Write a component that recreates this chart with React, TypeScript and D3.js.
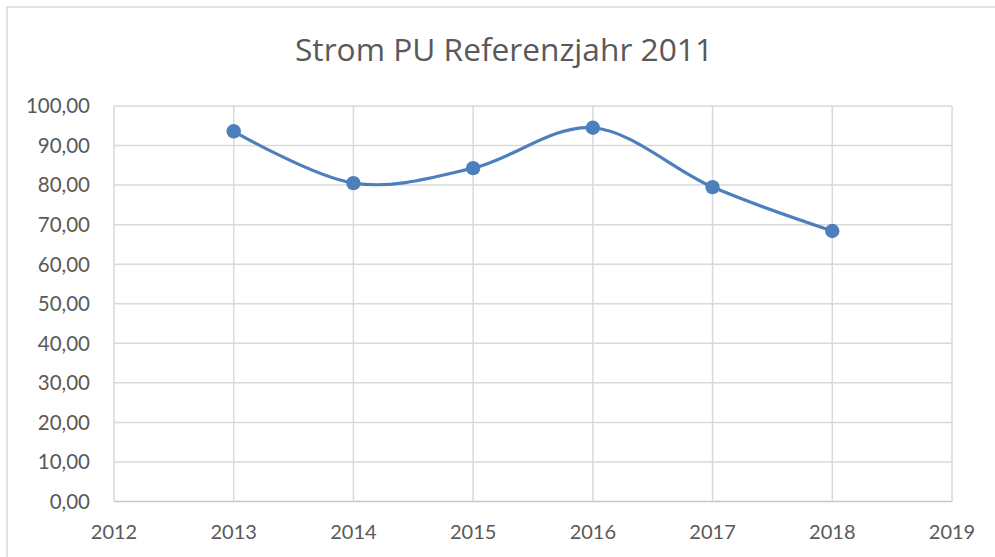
import React from "react";
import * as d3 from "d3";

const years = [2013, 2014, 2015, 2016, 2017, 2018];
const values = [93.6, 80.5, 84.3, 94.5, 79.5, 68.4];
const xTicks = [2012, 2013, 2014, 2015, 2016, 2017, 2018, 2019];
const yTicks = [0, 10, 20, 30, 40, 50, 60, 70, 80, 90, 100];
const title = "Strom PU Referenzjahr 2011";

const W = 995;
const H = 557;
const left = 114;
const right = 952;
const top = 106;
const bottom = 501.5;
const font = "Lato, 'Open Sans', sans-serif";
const titleFont = "'Open Sans', Lato, sans-serif";
const textColor = "#595959";
const lineColor = "#4e7fbd";

export default function App() {
  const x = d3.scaleLinear().domain([2012, 2019]).range([left, right]);
  const y = d3.scaleLinear().domain([0, 100]).range([bottom, top]);
  const fmt = (v: number) => v.toFixed(2).replace(".", ",");
  const pts: [number, number][] = years.map((yr, i) => [x(yr), y(values[i])]);
  const line = d3.line().curve(d3.curveCardinal.tension(0))(pts) || "";

  return (
    <svg
      width={W}
      height={H}
      style={{ position: "absolute", left: 0, top: 0, background: "#fff" }}
    >
      <rect x={0} y={0} width={W} height={H} fill="#fff" />
      <path
        d={`M7,${H + 5} L7,7 L${W + 5},7`}
        fill="none"
        stroke="#d9d9d9"
        strokeWidth={1.5}
      />
      <text
        x={504}
        y={61}
        textAnchor="middle"
        fontFamily={titleFont}
        fontSize={31}
        textLength={418}
        lengthAdjust="spacingAndGlyphs"
        fill={textColor}
      >
        {title}
      </text>
      {yTicks.map((t) => (
        <line
          key={"gy" + t}
          x1={left}
          x2={right}
          y1={y(t)}
          y2={y(t)}
          stroke={t === 0 ? "#c6c6c6" : "#d9d9d9"}
          strokeWidth={1.5}
        />
      ))}
      {xTicks.map((t) => (
        <line
          key={"gx" + t}
          x1={x(t)}
          x2={x(t)}
          y1={top}
          y2={bottom}
          stroke="#d9d9d9"
          strokeWidth={1.5}
        />
      ))}
      {yTicks.map((t) => (
        <text
          key={"ly" + t}
          x={90}
          y={y(t)}
          dy="0.36em"
          textAnchor="end"
          fontFamily={font}
          fontSize={20.5}
          fill={textColor}
        >
          {fmt(t)}
        </text>
      ))}
      {xTicks.map((t) => (
        <text
          key={"lx" + t}
          x={x(t)}
          y={539}
          textAnchor="middle"
          fontFamily={font}
          fontSize={20}
          fill={textColor}
        >
          {t}
        </text>
      ))}
      <path d={line} fill="none" stroke={lineColor} strokeWidth={3.2} strokeLinecap="round" />
      {pts.map((p, i) => (
        <circle key={"p" + i} cx={p[0]} cy={p[1]} r={7.2} fill={lineColor} />
      ))}
    </svg>
  );
}
